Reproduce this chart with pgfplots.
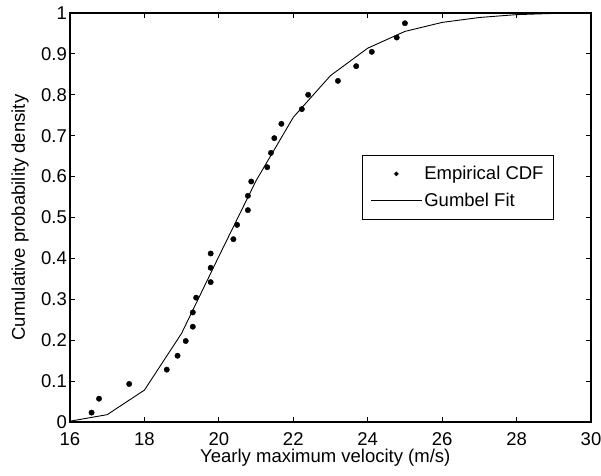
\documentclass[border=0pt]{standalone}
\usepackage{fontspec}
\setmainfont{Liberation Sans}
\usepackage{pgfplots}
\pgfplotsset{compat=1.18}
\begin{document}
\begin{tikzpicture}
\useasboundingbox (-70pt,-53pt) rectangle (531pt,422pt);
\begin{axis}[
  scale only axis, width=521pt, height=409pt,
  at={(0,0)}, anchor=south west,
  xmin=16, xmax=30, ymin=0, ymax=1,
  xtick={16,18,20,22,24,26,28,30},
  xticklabels={16,18,20,22,24,26,28,30},
  ytick={0,0.1,0.2,0.3,0.4,0.5,0.6,0.7,0.8,0.9,1},
  yticklabels={0,0.1,0.2,0.3,0.4,0.5,0.6,0.7,0.8,0.9,1},
  tick align=inside, major tick length=5.5pt,
  axis line style={line width=1.1pt},
  every tick/.style={black, line width=1pt},
  font=\fontsize{18.5}{22}\selectfont,
  /pgf/number format/assume math mode=true,
  xticklabel style={inner sep=1pt, yshift=-9pt},
  yticklabel style={inner sep=1pt, xshift=-2pt},
  xlabel={Yearly maximum velocity (m/s)},
  ylabel={Cumulative probability density},
  xlabel style={at={(axis description cs:0.49,-0.088)}, anchor=center},
  ylabel style={at={(axis description cs:-0.096,0.5)}, anchor=center},
  legend style={at={(rel axis cs:0.5605,0.6528)}, anchor=north west,
    draw=black, line width=0.8pt, font=\fontsize{18.5}{22}\selectfont,
    inner xsep=8pt, inner ysep=9pt, row sep=8pt},
  legend cell align=left,
]
\addplot[only marks, mark=*, mark size=2.7pt, black,
  legend image code/.code={\fill[black] (25.5pt,0pt) circle (1.9pt); \path[draw=none] (0pt,0pt) -- (51pt,0pt);}]
coordinates {
(16.58,0.023) (16.78,0.057) (17.59,0.093) (18.60,0.128) (18.89,0.162)
(19.11,0.198) (19.30,0.233) (19.30,0.268) (19.39,0.304) (19.78,0.342)
(19.78,0.377) (19.78,0.412) (20.39,0.447) (20.49,0.482) (20.78,0.518)
(20.78,0.553) (20.87,0.588) (21.30,0.623) (21.40,0.658) (21.49,0.694)
(21.68,0.729) (22.23,0.765) (22.40,0.800) (23.20,0.834) (23.69,0.870)
(24.11,0.905) (24.78,0.940) (25.00,0.975)
};
\addlegendentry{Empirical CDF}
\addplot[black, line width=0.9pt,
  legend image code/.code={\draw[black, line width=0.9pt] (0pt,0pt) -- (51pt,0pt);}]
coordinates {
(16,0.002) (17,0.018) (18,0.078) (19,0.217) (20,0.405) (21,0.590)
(22,0.745) (23,0.847) (24,0.914) (25,0.955) (26,0.977) (27,0.989)
(28,0.996) (29,0.999) (30,1.000)
};
\addlegendentry{Gumbel Fit}
\end{axis}
\end{tikzpicture}
\end{document}
